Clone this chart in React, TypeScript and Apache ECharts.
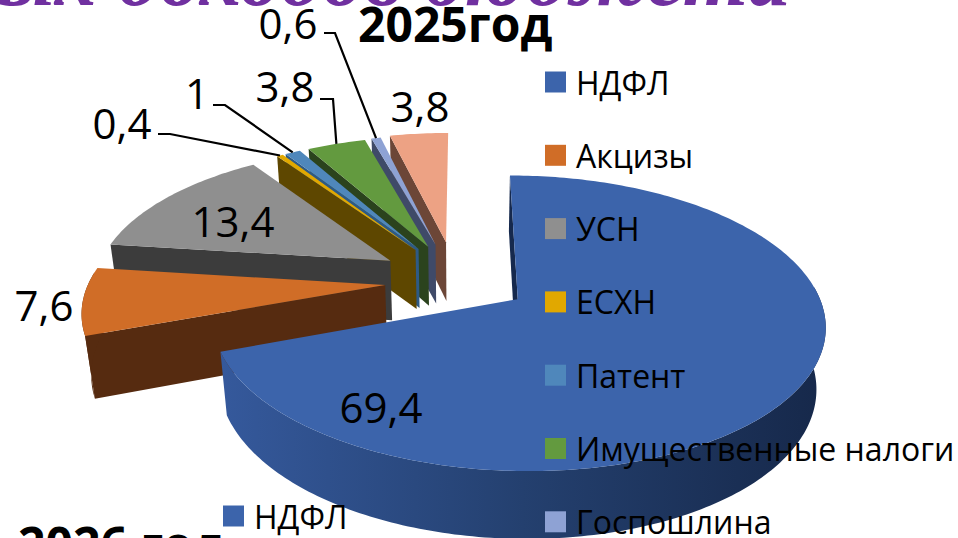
import React, { useEffect, useRef } from "react";
import * as echarts from "echarts";

const categories = ["НДФЛ", "Акцизы", "УСН", "ЕСХН", "Патент", "Имущественные налоги", "Госпошлина", "Прочие"];
const values = [69.4, 7.6, 13.4, 0.4, 1, 3.8, 0.6, 3.8];
const legendCategories = ["НДФЛ", "Акцизы", "УСН", "ЕСХН", "Патент", "Имущественные налоги", "Госпошлина"];
const secondChartCategories = ["НДФЛ"];
const topColors = ["#3c64ab", "#d06d27", "#8f8f8f", "#e1a800", "#4f87bb", "#639a3f", "#8ea2d4", "#eda284"];
const sideColors = ["#16294d", "#562b10", "#3c3c3c", "#5e4700", "#2e5a85", "#2b431d", "#3f4a68", "#6c4637"];
const explode = [0.225, 0.26, 0.29, 0.285, 0.285, 0.285, 0.29, 0.3];
const explodeTurn = [0, 0, 0, -1, -1, -2, -4, -4];
const labelAnchors: ([number, number] | null)[] = [[381, 406], [44, 304], [233, 220], [122, 122], [197, 92], [285, 85], [288, 22], [420, 105]];
const leaderElbows: ([number, number][] | null)[] = [null, null, null, [[158, 134], [170, 134]], [[213, 105], [225, 105]], [[320, 99], [333, 99]], [[324, 33], [335, 33]], null];

const CX = 462, CY = 281, RX = 296, RY = 138, PERSP = 0.16, DEPTH = 62, DEPTH_W = 0.025;
const total = values.reduce((a, b) => a + b, 0);
const rad = (d: number) => (d * Math.PI) / 180;

function proj(X: number, Z: number, bottom = false): [number, number] {
  const w = 1 + PERSP * Z + (bottom ? DEPTH_W : 0);
  return [CX + (RX * X) / w, CY - (RY * Z) / w + (bottom ? DEPTH / w : 0)];
}

function renderSlice(index: number) {
  return (_params: any, api: any) => {
    const value = api.value(0);
    const before = values.slice(0, index).reduce((a, b) => a + b, 0);
    const a0 = (before / total) * 360;
    const a1 = a0 + (value / total) * 360;
    const mid = (a0 + a1) / 2;
    const dir = mid + explodeTurn[index];
    const ox = explode[index] * Math.sin(rad(dir));
    const oz = explode[index] * Math.cos(rad(dir));
    const pt = (deg: number, bottom = false) => proj(ox + Math.sin(rad(deg)), oz + Math.cos(rad(deg)), bottom);
    const apexTop = proj(ox, oz);
    const apexBottom = proj(ox, oz, true);

    const steps = Math.max(2, Math.ceil(a1 - a0));
    const arc: number[] = [];
    for (let i = 0; i <= steps; i++) arc.push(a0 + ((a1 - a0) * i) / steps);

    const children: any[] = [];
    children.push({
      type: "polygon",
      shape: { points: [apexTop, pt(a0), pt(a0, true), apexBottom] },
      style: { fill: sideColors[index] },
    });
    const wallAngles = arc.filter((d) => Math.cos(rad(d)) < 0.1);
    if (wallAngles.length > 1) {
      const wall = [...wallAngles.map((d) => pt(d)), ...wallAngles.slice().reverse().map((d) => pt(d, true))];
      children.push({
        type: "polygon",
        shape: { points: wall },
        style: {
          fill:
            index === 0
              ? new echarts.graphic.LinearGradient(1, 0, 0, 0, [
                  { offset: 0, color: "#16284a" },
                  { offset: 0.5, color: "#24406f" },
                  { offset: 1, color: "#35599c" },
                ])
              : sideColors[index],
        },
      });
    }
    children.push({
      type: "polygon",
      shape: { points: [apexTop, ...arc.map((d) => pt(d))] },
      style: { fill: topColors[index] },
    });
    const elbow = leaderElbows[index];
    if (elbow) {
      children.push({
        type: "polyline",
        shape: { points: [...elbow, pt(mid)] },
        style: { stroke: "#000", lineWidth: 2.2, fill: "none" },
      });
    }
    const anchor = labelAnchors[index];
    if (anchor) {
      children.push({
        type: "text",
        z2: 50,
        style: {
          text: String(value).replace(".", ","),
          x: anchor[0],
          y: anchor[1],
          align: "center",
          verticalAlign: "middle",
          font: '42px "Open Sans"',
          fill: "#000",
        },
      });
    }
    return { type: "group", children };
  };
}

export default function App() {
  const ref = useRef<HTMLDivElement>(null);
  useEffect(() => {
    const chart = echarts.init(ref.current!, null, { renderer: "svg" });
    const legendText = { fontFamily: "Open Sans", fontSize: 32, lineHeight: 21, color: "#000", padding: [0, 0, 0, 5] };
    const legendBase = {
      orient: "vertical",
      padding: 0,
      itemWidth: 21,
      itemHeight: 21,
      icon: "rect",
      selectedMode: false,
      textStyle: legendText,
      z: 20,
    };
    chart.setOption({
      animation: false,
      backgroundColor: "#fff",
      color: topColors,
      title: [
        {
          text: "ых доходов бюджета",
          left: 790,
          top: -66,
          padding: 0,
          textAlign: "right",
          textStyle: { fontFamily: "Liberation Serif", fontStyle: "italic", fontWeight: "bold", fontSize: 84, color: "#7030a0" },
        },
        { text: "2025год", left: 358, top: -1, padding: 0, textStyle: { fontFamily: "Open Sans", fontWeight: "bold", fontSize: 48, color: "#000" } },
        { text: "2026 год", left: 18, top: 519, padding: 0, textStyle: { fontFamily: "Open Sans", fontWeight: "bold", fontSize: 48, color: "#000" } },
      ],
      legend: [
        { ...legendBase, data: legendCategories, left: 545, top: 66, itemGap: 41.3 },
        { ...legendBase, data: secondChartCategories, left: 223, top: 500 },
      ],
      series: categories
        .map((name, i) => ({
          type: "custom",
          name,
          coordinateSystem: "none",
          silent: true,
          z: 1 + (categories.length - i) * 0.1,
          itemStyle: { color: topColors[i] },
          data: [[values[i]]],
          renderItem: renderSlice(i),
        }))
        .reverse(),
    });
    return () => chart.dispose();
  }, []);
  return <div ref={ref} style={{ position: "fixed", left: 0, top: 0, width: 958, height: 538 }} />;
}
